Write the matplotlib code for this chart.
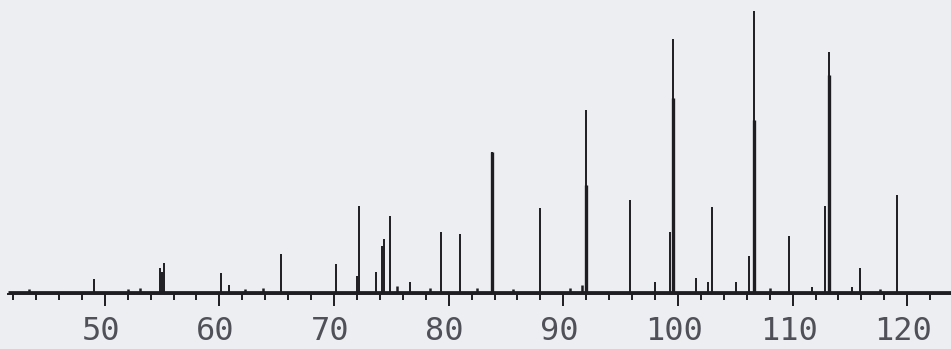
import numpy as np
import matplotlib.pyplot as plt
from matplotlib.ticker import MultipleLocator
from matplotlib.transforms import ScaledTranslation

# peak positions (m/z) and relative intensities (% of base peak)
peak_mz = [49.1, 54.8, 55.0, 55.2, 60.1, 60.8, 65.4, 70.2, 72.0, 72.2,
           73.7, 74.2, 74.4, 74.9, 76.6, 79.3, 81.0, 83.8, 88.0, 92.0,
           95.8, 98.0, 99.3, 99.6, 101.6, 102.6, 103.0, 105.1, 106.2, 106.6,
           109.7, 111.7, 112.8, 113.2, 115.2, 115.9, 119.1]
peak_int = [4.6, 8.5, 7.1, 10.3, 6.8, 2.5, 13.5, 10.0, 5.7, 30.6,
            7.1, 16.4, 18.8, 27.0, 3.6, 21.3, 20.6, 49.8, 29.9, 64.7,
            32.7, 3.6, 21.3, 89.9, 5.0, 3.6, 30.2, 3.6, 12.8, 100.0,
            19.9, 1.8, 30.6, 85.3, 1.8, 8.5, 34.5]

# lower, heavier part of the bigger peaks (the pen went over them twice)
thick_mz = [83.8, 92.0, 99.6, 106.6, 113.2]
thick_int = [49.8, 38.0, 69.0, 61.0, 77.0]

# small bumps on the baseline
noise_mz = [43.4, 52.0, 53.1, 62.2, 63.8, 75.5, 78.4, 82.5, 85.6, 90.6, 91.6, 108.0, 117.6]
noise_int = [1.2, 1.0, 1.3, 1.0, 1.4, 2.0, 1.5, 1.6, 1.2, 1.3, 2.5, 1.4, 1.0]

tick_labels = [50, 60, 70, 80, 90, 100, 110, 120]

ink = "#1e1e22"
paper = "#eceef2"

fig = plt.figure(figsize=(9.51, 3.49), dpi=100, facecolor=paper)
ax = fig.add_axes([0, 0, 1, 1], facecolor=paper)

ax.plot([41.56, 123.9], [0, 0], color=ink, lw=2.0, solid_capstyle="butt")
ax.vlines(noise_mz, 0, noise_int, color=ink, lw=1.8)
ax.vlines(peak_mz, 0, peak_int, color=ink, lw=1.4)
ax.vlines(thick_mz, 0, thick_int, color=ink, lw=2.4)

ax.set_xlim(40.86, 123.82)
ax.set_ylim(-20.26, 103.8)

for s in ["top", "right", "left"]:
    ax.spines[s].set_visible(False)
ax.spines["bottom"].set_position(("data", -0.8))
ax.spines["bottom"].set_bounds(41.56, 123.9)
ax.spines["bottom"].set_color(ink)
ax.spines["bottom"].set_linewidth(1.4)

ax.set_yticks([])
ax.xaxis.set_major_locator(MultipleLocator(10))
ax.xaxis.set_minor_locator(MultipleLocator(2))
ax.set_xticks(tick_labels)
ax.set_xticklabels([str(t) for t in tick_labels])
ax.tick_params(axis="x", which="major", direction="out", length=8.5, width=1.4,
               color=ink, pad=7, labelsize=23, labelcolor="#505058")
ax.tick_params(axis="x", which="minor", direction="out", length=4.5, width=1.4, color=ink)
shift = ScaledTranslation(-4 / 100, 0, fig.dpi_scale_trans)
for lab in ax.get_xticklabels():
    lab.set_fontfamily("DejaVu Sans Mono")
    lab.set_transform(lab.get_transform() + shift)

fig.savefig("out.png", dpi=100, facecolor=paper)
